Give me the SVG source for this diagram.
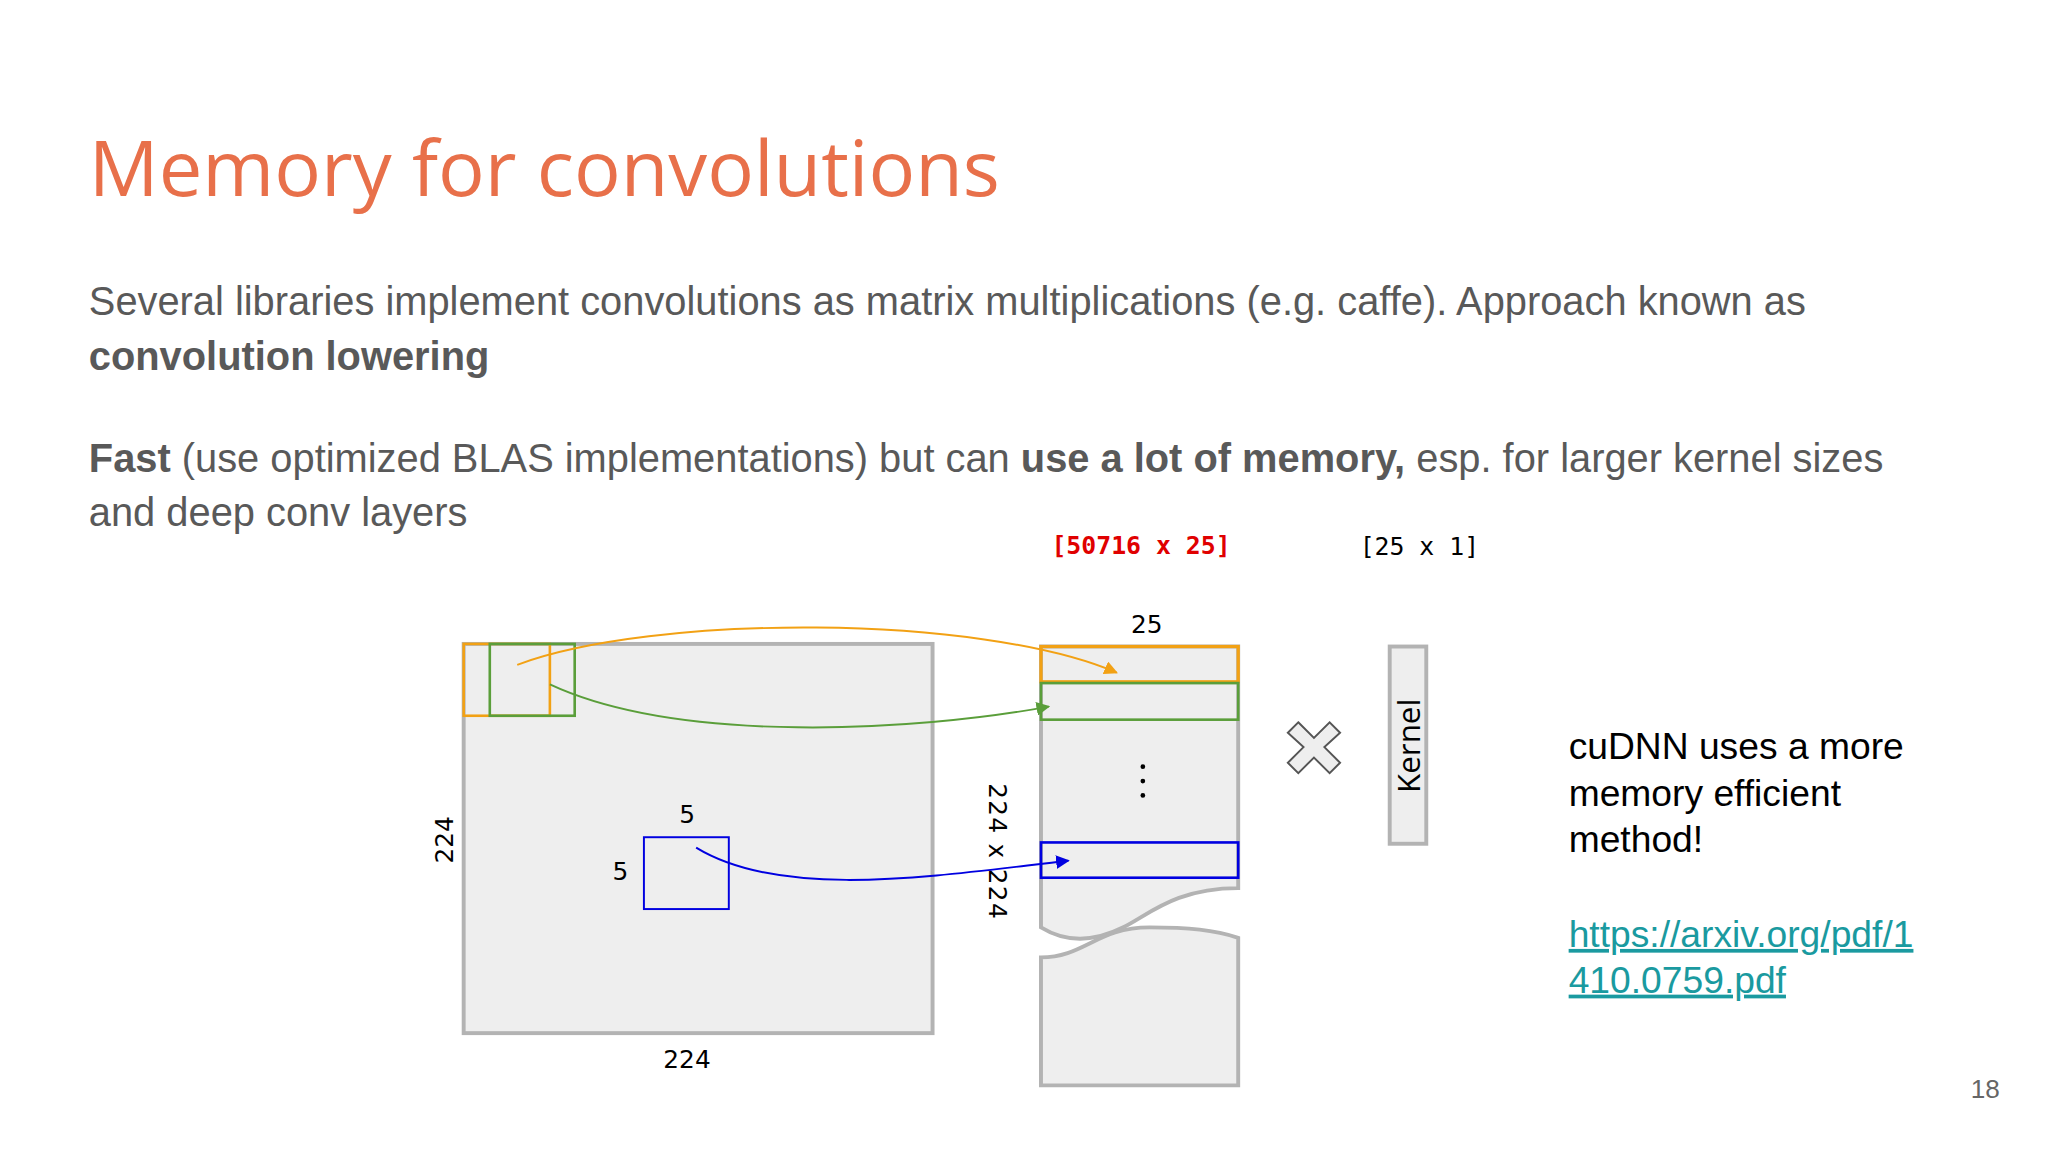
<svg xmlns="http://www.w3.org/2000/svg" width="2048" height="1152" viewBox="0 0 2048 1152">
<defs>
<style>
.p{font-family:"Liberation Sans",Arial,sans-serif;font-size:30.5px;fill:#595959}
.b{font-weight:bold}
.m{font-family:"DejaVu Sans Mono","Liberation Mono",monospace;font-size:19px}
.l{font-family:"DejaVu Sans","Open Sans",sans-serif;font-size:19px;fill:#000}
.box{fill:#eeeeee;stroke:#b3b3b3;stroke-width:3}
.r{font-family:"Liberation Sans",Arial,sans-serif;font-size:28.5px;fill:#000}
.lk{fill:#1a9aa0}
</style>
<marker id="ao" viewBox="0 0 10 10" refX="9" refY="5" markerWidth="7" markerHeight="7" orient="auto"><path d="M0,0L10,5L0,10z" fill="#f2a114"/></marker>
<marker id="ag" viewBox="0 0 10 10" refX="9" refY="5" markerWidth="7" markerHeight="7" orient="auto"><path d="M0,0L10,5L0,10z" fill="#5a9e3a"/></marker>
<marker id="ab" viewBox="0 0 10 10" refX="9" refY="5" markerWidth="7" markerHeight="7" orient="auto"><path d="M0,0L10,5L0,10z" fill="#0000e0"/></marker>
</defs>
<rect width="2048" height="1152" fill="#fff"/>
<g transform="scale(1.30612)">
<text x="68" y="150" font-family="'Open Sans',sans-serif" font-size="59.5" fill="#e8704a">Memory for convolutions</text>
<text class="p" x="68" y="241">Several libraries implement convolutions as matrix multiplications (e.g. caffe). Approach known as</text>
<text class="p b" x="68" y="283">convolution lowering</text>
<text class="p" x="68" y="361"><tspan class="b">Fast</tspan> (use optimized BLAS implementations) but can <tspan class="b">use a lot of memory,</tspan> esp. for larger kernel sizes</text>
<text class="p" x="68" y="403">and deep conv layers</text>
<text class="m" x="805" y="424" fill="#e00000" font-weight="bold">[50716 x 25]</text>
<text class="m" x="1041" y="425" fill="#000">[25 x 1]</text>
<g id="input">
<rect class="box" x="355" y="493" width="359" height="298"/>
<rect x="355" y="493" width="66" height="55" fill="none" stroke="#f2a114" stroke-width="2"/>
<rect x="375" y="493" width="65" height="55" fill="none" stroke="#5a9e3a" stroke-width="2"/>
<rect x="493" y="641" width="65" height="55" fill="none" stroke="#0000e0" stroke-width="1.5"/>
<text class="l" x="526" y="630" text-anchor="middle">5</text>
<text class="l" x="475" y="674" text-anchor="middle">5</text>
<text class="l" transform="translate(347,643) rotate(-90)" text-anchor="middle">224</text>
<text class="l" x="526" y="818" text-anchor="middle">224</text>
</g>
<g id="lowered">
<path class="box" d="M797,495 H948 V680 C900,680 880,700 860,710 C830,725 810,718 797,710 Z"/>
<path class="box" d="M797,733 C830,733 840,710 880,710 C910,710 930,712 948,718 V831 H797 Z"/>
<rect x="797" y="495" width="151" height="27" fill="none" stroke="#f2a114" stroke-width="2.5"/>
<rect x="797" y="523" width="151" height="28" fill="none" stroke="#5a9e3a" stroke-width="2"/>
<rect x="797" y="645" width="151" height="27" fill="none" stroke="#0000e0" stroke-width="2"/>
<text class="l" x="878" y="485" text-anchor="middle">25</text>
<g fill="#000"><circle cx="875" cy="587" r="1.8"/><circle cx="875" cy="598" r="1.8"/><circle cx="875" cy="609" r="1.8"/></g>
<text class="l" transform="translate(757,652) rotate(90)" text-anchor="middle" font-size="20" letter-spacing="1">224 x 224</text>
</g>
<g id="times">
<path d="M994,553 L1006,565 L1018,553 L1026,561 L1014,572 L1026,584 L1018,592 L1006,580 L994,592 L986,584 L998,572 L986,561 Z" fill="#eee" stroke="#555" stroke-width="1.5"/>
</g>
<g id="kernel">
<rect class="box" x="1064" y="495" width="28" height="151" stroke-width="2"/>
<text transform="translate(1087,571) rotate(-90)" text-anchor="middle" font-family="'Open Sans',sans-serif" font-size="24" fill="#000">Kernel</text>
</g>
<g id="connectors" fill="none" stroke-width="1.5">
<path d="M396,509 C500,470 750,470 855,515" stroke="#f2a114" marker-end="url(#ao)"/>
<path d="M421,524 C520,570 700,560 803,541" stroke="#5a9e3a" marker-end="url(#ag)"/>
<path d="M533,649 C600,690 720,670 818,659" stroke="#0000e0" marker-end="url(#ab)"/>
</g>
<text class="r" x="1201" y="581">cuDNN uses a more</text>
<text class="r" x="1201" y="617">memory efficient</text>
<text class="r" x="1201" y="652">method!</text>
<text class="r lk" x="1201" y="725" text-decoration="underline">https://arxiv.org/pdf/1</text>
<text class="r lk" x="1201" y="760" text-decoration="underline">410.0759.pdf</text>
<text x="1520" y="841" text-anchor="middle" font-family="'Liberation Sans',Arial,sans-serif" font-size="20" fill="#666">18</text>
</g>
</svg>
